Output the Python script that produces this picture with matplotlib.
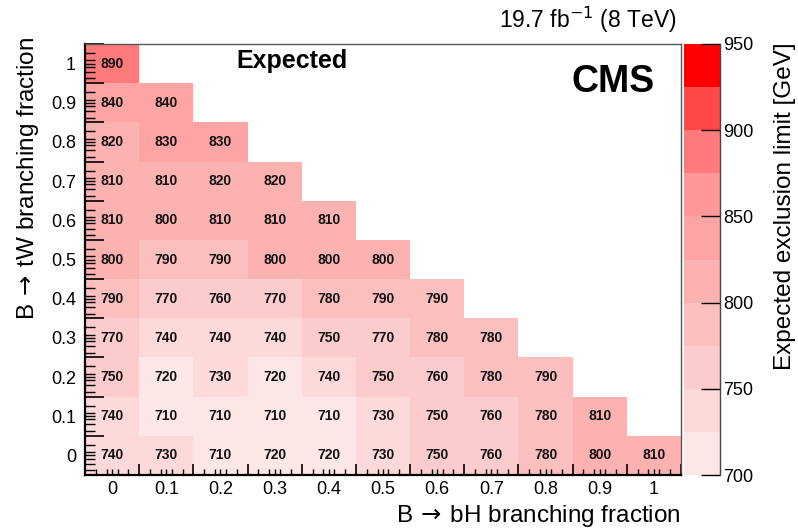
import numpy as np
import matplotlib
matplotlib.use("Agg")
import matplotlib.pyplot as plt
from matplotlib.colors import ListedColormap, BoundaryNorm
from matplotlib.ticker import FixedLocator, FuncFormatter, NullFormatter

plt.rcParams['font.family'] = ['Liberation Sans', 'DejaVu Sans']
plt.rcParams['mathtext.fontset'] = 'dejavusans'

# branching fractions on both axes
bh_frac = [0.0, 0.1, 0.2, 0.3, 0.4, 0.5, 0.6, 0.7, 0.8, 0.9, 1.0]
tw_frac = [0.0, 0.1, 0.2, 0.3, 0.4, 0.5, 0.6, 0.7, 0.8, 0.9, 1.0]
frac_labels = ['0', '0.1', '0.2', '0.3', '0.4', '0.5', '0.6', '0.7', '0.8', '0.9', '1']

# expected limits [GeV], one row per tW fraction (row i starts at bH = 0)
limits = [
    [740, 730, 710, 720, 720, 730, 750, 760, 780, 800, 810],  # tW = 0
    [740, 710, 710, 710, 710, 730, 750, 760, 780, 810],       # tW = 0.1
    [750, 720, 730, 720, 740, 750, 760, 780, 790],            # tW = 0.2
    [770, 740, 740, 740, 750, 770, 780, 780],                 # tW = 0.3
    [790, 770, 760, 770, 780, 790, 790],                      # tW = 0.4
    [800, 790, 790, 800, 800, 800],                           # tW = 0.5
    [810, 800, 810, 810, 810],                                # tW = 0.6
    [810, 810, 820, 820],                                     # tW = 0.7
    [820, 830, 830],                                          # tW = 0.8
    [840, 840],                                               # tW = 0.9
    [890],                                                    # tW = 1
]

levels = np.arange(700, 951, 25)
band_colors = ['#fde6e6', '#fdd9d9', '#fccccc', '#fcbfbf', '#fdb2b2',
               '#fda5a5', '#fe9898', '#ff7a7a', '#ff4848', '#ff0000']

n = len(bh_frac)
grid = np.full((n, n), np.nan)
for j, row in enumerate(limits):
    for i, v in enumerate(row):
        grid[j, i] = v
grid = np.ma.masked_invalid(grid)

step = 0.1
xedges = np.array(bh_frac + [bh_frac[-1] + step]) - step / 2
yedges = np.array(tw_frac + [tw_frac[-1] + step]) - step / 2

W, H = 798, 529
fig = plt.figure(figsize=(W / 100, H / 100), dpi=100)
ax = fig.add_axes([85 / W, 1 - 475 / H, (681 - 85) / W, (475 - 44) / H])
cax = fig.add_axes([684 / W, 1 - 475 / H, 36 / W, (475 - 44) / H])

cmap = ListedColormap(band_colors)
norm = BoundaryNorm(levels, cmap.N)
mesh = ax.pcolormesh(xedges, yedges, grid, cmap=cmap, norm=norm, edgecolors='none')

for j, row in enumerate(limits):
    for i, v in enumerate(row):
        ax.text(bh_frac[i], tw_frac[j], str(v), ha='center', va='center',
                fontsize=10, fontweight='bold', color='#111111')

ax.set_xlim(xedges[0], xedges[-1])
ax.set_ylim(yedges[0], yedges[-1])

# long ticks on the bin edges, short ones inside each bin, labels at bin centres
def axis_ticks(axis, edges, centres, fracs):
    axis.set_major_locator(FixedLocator(list(edges)))
    axis.set_major_formatter(NullFormatter())
    minor = []
    for c in centres:
        minor += [c + (f - 0.5) * step for f in fracs]
    minor += list(centres)
    axis.set_minor_locator(FixedLocator(sorted(minor)))
    lab = {round(c, 3): t for c, t in zip(centres, frac_labels)}
    axis.set_minor_formatter(FuncFormatter(lambda v, p: lab.get(round(v, 3), '')))

axis_ticks(ax.xaxis, xedges, bh_frac, [0.2, 0.4, 0.6, 0.8])
axis_ticks(ax.yaxis, yedges, tw_frac, [0.12, 0.29, 0.42, 0.58, 0.77])

ax.tick_params(axis='x', which='major', direction='in', length=8, width=1.2)
ax.tick_params(axis='x', which='minor', direction='in', length=4, width=1.0,
               labelsize=13, pad=4)
ax.tick_params(axis='y', which='major', direction='in', length=14, width=1.2)
ax.tick_params(axis='y', which='minor', direction='in', length=7, width=1.0,
               labelsize=13, pad=6.5)

for s in ['left', 'bottom']:
    ax.spines[s].set_linewidth(1.6)
    ax.spines[s].set_color('black')
for s in ['top', 'right']:
    ax.spines[s].set_linewidth(1.0)
    ax.spines[s].set_color('#555555')

cbar = fig.colorbar(mesh, cax=cax, ticks=np.arange(700, 951, 50))
cbar.outline.set_visible(False)
cax.plot([1, 1], [0, 1], transform=cax.transAxes, color='#444444', lw=1.0, clip_on=False)
cax.tick_params(direction='in', length=14, width=1.0, labelsize=13, pad=2)
cax.minorticks_off()

fig.text(681 / W, 1 - 522 / H, r'B$\,\rightarrow\,$bH branching fraction',
         ha='right', va='baseline', fontsize=17.5)
fig.text(28 / W, 1 - 37 / H, r'B$\,\rightarrow\,$tW branching fraction',
         ha='center', va='top', rotation=90, fontsize=17.5)
fig.text(785 / W, 1 - 42 / H, 'Expected exclusion limit [GeV]',
         ha='center', va='top', rotation=90, fontsize=17.5)
fig.text(677 / W, 1 - 28 / H, r'19.7 fb$^{-1}$ (8 TeV)',
         ha='right', va='baseline', fontsize=16.5)
fig.text(236 / W, 1 - 68 / H, 'Expected', ha='left', va='baseline',
         fontsize=18, fontweight='bold')
fig.text(655 / W, 1 - 92 / H, 'CMS', ha='right', va='baseline',
         fontsize=27, fontweight='bold')

fig.savefig('out.png', dpi=100)
